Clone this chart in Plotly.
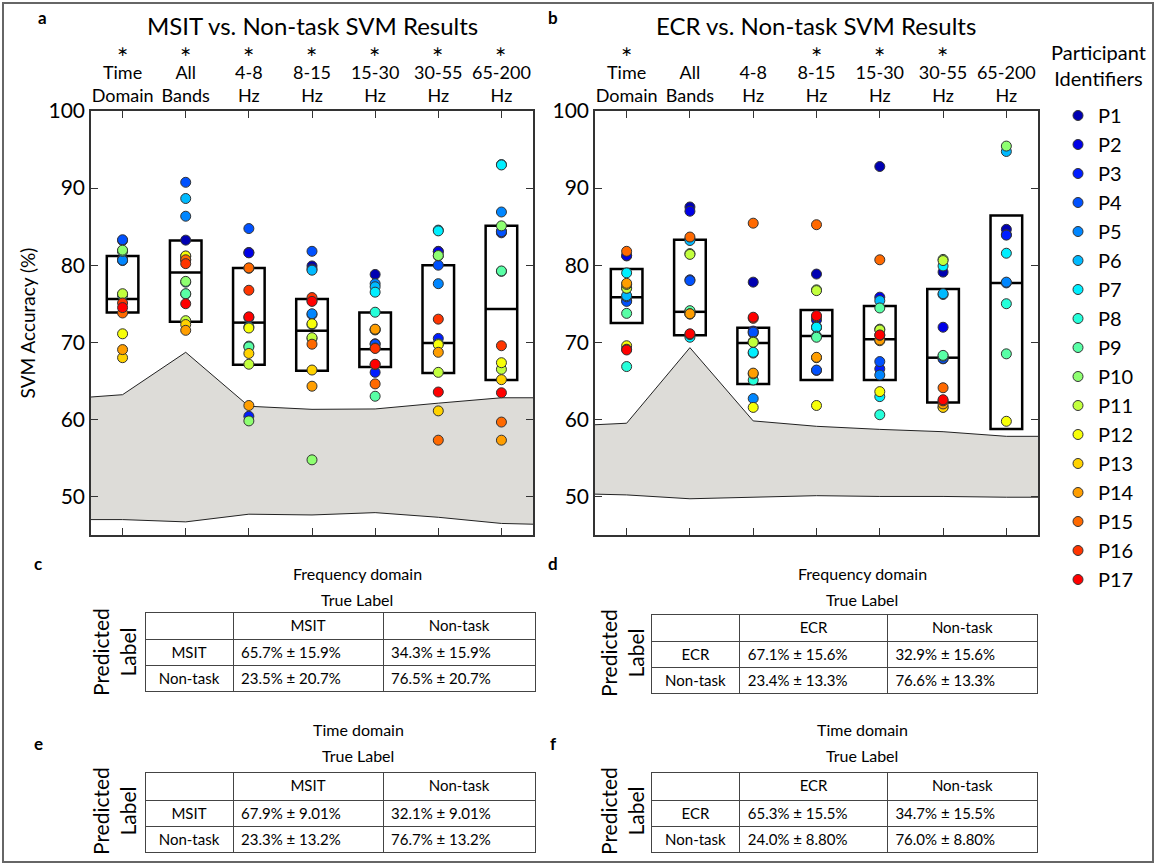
import plotly.graph_objects as go

W, H = 1160, 865
FONT = "Lato"

# ---------------- data ----------------
participants = [f"P{i}" for i in range(1, 18)]
band_labels = ["Time<br>Domain", "All<br>Bands", "4-8<br>Hz", "8-15<br>Hz",
               "15-30<br>Hz", "30-55<br>Hz", "65-200<br>Hz"]
msit_sig = [True, True, True, True, True, True, True]
ecr_sig = [True, False, False, True, True, True, False]

# MSIT vs non-task accuracy (%) per band, P1..P17
msit_time = [80.8, 80.6, 83.2, 83.3, 80.65, 81.85, 76.2, 76.1, 81.8, 81.95, 76.3, 71.1, 68.0, 69.05, 73.8, 75.1, 74.5]
msit_all = [83.25, 81.15, 80.7, 90.75, 86.35, 88.65, 77.8, 76.25, 76.3, 77.9, 72.8, 81.2, 72.3, 71.55, 80.7, 80.2, 75.0]
msit_4_8 = [81.65, 81.6, 60.4, 84.75, 73.2, 72.0, 79.6, 69.5, 69.4, 59.8, 67.15, 71.85, 68.55, 61.8, 79.65, 76.75, 73.3]
msit_8_15 = [79.9, 79.5, 73.6, 81.8, 73.7, 79.35, 75.4, 72.3, 70.5, 54.75, 70.6, 72.4, 66.4, 64.3, 69.75, 75.8, 75.3]
msit_15_30 = [78.8, 69.8, 66.1, 69.75, 77.6, 77.2, 76.5, 73.9, 63.0, 71.6, 71.65, 67.1, 69.25, 71.7, 64.6, 69.2, 67.15]
msit_30_55 = [81.8, 81.75, 70.5, 80.0, 77.6, 84.55, 84.45, 69.8, 81.2, 81.25, 66.1, 69.7, 61.1, 68.7, 57.3, 73.0, 63.55]
msit_65_200 = [84.4, 84.3, 84.2, 84.35, 86.9, 93.05, 93.0, 79.2, 79.25, 85.1, 66.5, 67.35, 65.15, 57.3, 59.65, 69.55, 63.45]

# ECR vs non-task accuracy (%) per band, P1..P17
ecr_time = [81.2, 81.25, 75.4, 75.3, 75.9, 76.05, 79.0, 66.85, 73.75, 77.05, 77.0, 69.55, 77.5, 77.65, 81.8, 69.1, 69.0]
ecr_all = [87.55, 87.0, 78.1, 78.0, 83.4, 83.2, 70.65, 74.0, 74.1, 81.5, 81.4, 73.7, 73.65, 73.7, 83.65, 71.0, 71.1]
ecr_4_8 = [77.8, 71.2, 71.45, 71.3, 62.7, 68.6, 68.7, 65.1, 70.0, 70.1, 70.0, 61.55, 65.9, 66.0, 85.45, 73.1, 73.25]
ecr_8_15 = [78.85, 72.9, 66.35, 66.4, 72.0, 71.9, 71.95, 70.8, 70.65, 76.8, 76.7, 61.8, 68.0, 68.05, 85.25, 73.3, 73.45]
ecr_15_30 = [92.8, 75.85, 66.55, 67.5, 65.75, 75.4, 62.95, 60.6, 74.45, 71.7, 71.6, 63.6, 70.2, 70.3, 80.7, 70.9, 70.95]
ecr_30_55 = [79.1, 71.95, 67.85, 67.9, 76.2, 76.3, 79.9, 68.2, 68.3, 80.75, 80.6, 61.6, 61.55, 62.0, 64.1, 62.4, 62.55]
ecr_65_200 = [84.65, 83.95, 83.9, 77.7, 77.8, 94.75, 81.55, 75.0, 68.5, 95.45, None, 59.75, None, None, None, None, None]

# boxes: lower edge, median, upper edge
msit_box_low = [73.85, 72.65, 67.1, 66.3, 66.8, 66.0, 65.1]
msit_box_med = [75.6, 79.05, 72.55, 71.5, 69.1, 69.9, 74.3]
msit_box_high = [81.2, 83.2, 79.65, 75.6, 73.85, 80.0, 85.1]
ecr_box_low = [72.5, 70.9, 64.6, 65.1, 65.1, 62.2, 58.75]
ecr_box_med = [75.85, 73.95, 69.9, 70.8, 70.4, 68.0, 77.7]
ecr_box_high = [79.5, 83.3, 71.9, 74.2, 74.7, 76.9, 86.45]

# chance band (shaded region)
band_x = [0.5, 1, 2, 3, 4, 5, 6, 7, 7.5]
msit_chance_upper = [62.9, 63.2, 68.7, 61.7, 61.3, 61.35, 62.1, 62.8, 62.8]
msit_chance_lower = [47.0, 47.0, 46.7, 47.7, 47.6, 47.9, 47.3, 46.5, 46.4]
ecr_chance_upper = [59.3, 59.5, 69.3, 59.8, 59.1, 58.7, 58.4, 57.8, 57.8]
ecr_chance_lower = [50.3, 50.2, 49.7, 49.9, 50.1, 50.0, 50.0, 49.9, 49.9]

# confusion tables
table_c_cols = ["MSIT", "Non-task"]
table_c_rows = ["MSIT", "Non-task"]
table_c_col1 = ["65.7% ± 15.9%", "23.5% ± 20.7%"]
table_c_col2 = ["34.3% ± 15.9%", "76.5% ± 20.7%"]
table_d_cols = ["ECR", "Non-task"]
table_d_rows = ["ECR", "Non-task"]
table_d_col1 = ["67.1% ± 15.6%", "23.4% ± 13.3%"]
table_d_col2 = ["32.9% ± 15.6%", "76.6% ± 13.3%"]
table_e_cols = ["MSIT", "Non-task"]
table_e_rows = ["MSIT", "Non-task"]
table_e_col1 = ["67.9% ± 9.01%", "23.3% ± 13.2%"]
table_e_col2 = ["32.1% ± 9.01%", "76.7% ± 13.2%"]
table_f_cols = ["ECR", "Non-task"]
table_f_rows = ["ECR", "Non-task"]
table_f_col1 = ["65.3% ± 15.5%", "24.0% ± 8.80%"]
table_f_col2 = ["34.7% ± 15.5%", "76.0% ± 8.80%"]

# ---------------- styling helpers ----------------
def jet(t):
    def c(v):
        return max(0.0, min(1.0, v))
    r = c(1.5 - abs(4 * t - 3))
    g = c(1.5 - abs(4 * t - 2))
    b = c(1.5 - abs(4 * t - 1))
    return "#%02x%02x%02x" % (round(r * 255), round(g * 255), round(b * 255))

colors = [jet(0.05 + i * 0.825 / 16) for i in range(17)]

def px(x):
    return x / W

def py(y):
    return 1 - y / H

msit_cols = [msit_time, msit_all, msit_4_8, msit_8_15, msit_15_30, msit_30_55, msit_65_200]
ecr_cols = [ecr_time, ecr_all, ecr_4_8, ecr_8_15, ecr_15_30, ecr_30_55, ecr_65_200]
xcat = list(range(1, 8))

fig = go.Figure()

# chance bands
for xa, ya, lo, hi in [("x", "y", msit_chance_lower, msit_chance_upper),
                       ("x2", "y2", ecr_chance_lower, ecr_chance_upper)]:
    fig.add_trace(go.Scatter(x=band_x, y=lo, mode="lines", line=dict(color="#222", width=1),
                             xaxis=xa, yaxis=ya, showlegend=False, hoverinfo="skip"))
    fig.add_trace(go.Scatter(x=band_x, y=hi, mode="lines", line=dict(color="#222", width=1),
                             fill="tonexty", fillcolor="#dddcd8",
                             xaxis=xa, yaxis=ya, showlegend=False, hoverinfo="skip"))

# participant points
for k, name in enumerate(participants):
    for xa, ya, cols, show in [("x", "y", msit_cols, True), ("x2", "y2", ecr_cols, False)]:
        fig.add_trace(go.Scatter(
            x=xcat, y=[col[k] for col in cols], mode="markers", name=name,
            marker=dict(size=10, color=colors[k], line=dict(color="#333", width=1)),
            xaxis=xa, yaxis=ya, showlegend=show, legendgroup=name))

# boxes
shapes = []
hw = 0.25
for xr, yr, lows, meds, highs in [("x", "y", msit_box_low, msit_box_med, msit_box_high),
                                  ("x2", "y2", ecr_box_low, ecr_box_med, ecr_box_high)]:
    for i, (lo, md, hi) in enumerate(zip(lows, meds, highs)):
        xc = xcat[i]
        shapes.append(dict(type="rect", xref=xr, yref=yr, x0=xc - hw, x1=xc + hw, y0=lo, y1=hi,
                           line=dict(color="black", width=2.5), layer="below"))
        shapes.append(dict(type="line", xref=xr, yref=yr, x0=xc - hw, x1=xc + hw, y0=md, y1=md,
                           line=dict(color="black", width=2.5), layer="below"))

# outer frame
shapes.append(dict(type="rect", xref="paper", yref="paper", x0=px(3), x1=px(1153), y0=py(862), y1=py(3),
                   line=dict(color="#666", width=2)))

def xcfg(domain):
    return dict(domain=domain, range=[0.5, 7.5], side="top", tickmode="array", tickvals=xcat,
                ticktext=band_labels, ticks="inside", ticklen=7, tickwidth=1.2, tickcolor="#333",
                showline=True, linecolor="#333", linewidth=1.5, mirror="ticks", showgrid=False,
                zeroline=False, automargin=False,
                tickfont=dict(size=18, color="black", family=FONT))

def ycfg(domain, anchor, title=None):
    d = dict(domain=domain, range=[45, 100], tickvals=[50, 60, 70, 80, 90, 100], ticks="inside",
             ticklen=7, tickwidth=1.2, tickcolor="#333", showline=True, linecolor="#333",
             linewidth=1.5, mirror="ticks", showgrid=False, zeroline=False, anchor=anchor,
             automargin=False, tickfont=dict(size=21, color="black", family=FONT))
    if title:
        d["title"] = dict(text=title, font=dict(size=19, color="black", family=FONT), standoff=8)
    return d

ydom = [py(535), py(111)]
fig.update_layout(
    xaxis=xcfg([px(91), px(533)]),
    yaxis=ycfg(ydom, "x", "SVM Accuracy (%)"),
    xaxis2=xcfg([px(595), px(1038)]),
    yaxis2=ycfg(ydom, "x2"),
)
fig.update_layout(xaxis2=dict(anchor="y2"), xaxis=dict(anchor="y"))

# tables
def add_table(x0, x1, y0, y1, colw, cols, rows, c1, c2, hh, ch):
    fig.add_trace(go.Table(
        domain=dict(x=[px(x0), px(x1)], y=[py(y1 + 2), py(y0)]),
        columnwidth=colw,
        header=dict(values=[""] + cols, height=hh, align="center",
                    font=dict(size=15, color="black", family=FONT),
                    line=dict(color="#444", width=1), fill=dict(color="white")),
        cells=dict(values=[rows, c1, c2], height=ch, align=["center", "left", "left"],
                   font=dict(size=15, color="black", family=FONT),
                   line=dict(color="#444", width=1), fill=dict(color="white"))))

add_table(145, 535, 612, 691, [88, 150, 152], table_c_cols, table_c_rows, table_c_col1, table_c_col2, 27, 26)
add_table(651, 1038, 614, 692, [89, 148, 150], table_d_cols, table_d_rows, table_d_col1, table_d_col2, 27, 26)
add_table(145, 535, 772, 851, [88, 150, 152], table_e_cols, table_e_rows, table_e_col1, table_e_col2, 28, 26)
add_table(651, 1038, 772, 851, [89, 148, 150], table_f_cols, table_f_rows, table_f_col1, table_f_col2, 28, 26)

ann = []
def text(t, x, y, size, **kw):
    d = dict(text=t, x=px(x), y=py(y), xref="paper", yref="paper", showarrow=False,
             font=dict(size=size, color="black", family=FONT), xanchor="center", yanchor="middle")
    d.update(kw)
    ann.append(d)

# significance asterisks above the band labels
for xr, sig in [("x", msit_sig), ("x2", ecr_sig)]:
    for xc, s in zip(xcat, sig):
        if s:
            ann.append(dict(text="\u2217", x=xc, y=py(51), xref=xr, yref="paper", showarrow=False,
                            font=dict(size=14, color="black", family="DejaVu Sans"),
                            xanchor="center", yanchor="middle", borderpad=0))

for lab, x, y in [("a", 42, 18), ("b", 553, 18), ("c", 38, 563), ("d", 553, 563), ("e", 38, 743), ("f", 553, 743)]:
    text("<b>" + lab + "</b>", x, y, 17)
text("MSIT vs. Non-task SVM Results", 312, 25, 24)
text("ECR vs. Non-task SVM Results", 816, 25, 24)
text("Participant<br>Identifiers", 1098, 65, 20)
for x, y, t in [(357, 573, "Frequency domain"), (862, 573, "Frequency domain"),
                (358, 729, "Time domain"), (862, 729, "Time domain")]:
    text(t, x, y, 16)
    text("True Label", x, y + 26, 16)
for x, y in [(114, 652), (622, 653), (114, 811), (622, 811)]:
    text("Predicted<br>Label", x, y, 21, textangle=-90)

fig.update_layout(
    width=W, height=H, autosize=False,
    margin=dict(l=0, r=0, t=0, b=0, pad=0, autoexpand=False),
    paper_bgcolor="white", plot_bgcolor="white",
    font=dict(family=FONT, color="black"),
    shapes=shapes, annotations=ann,
    legend=dict(x=px(1058), y=py(96), xanchor="left", yanchor="top",
                font=dict(size=20, family=FONT, color="black"), bgcolor="rgba(0,0,0,0)",
                tracegroupgap=0),
)

fig.write_html("out.html")
